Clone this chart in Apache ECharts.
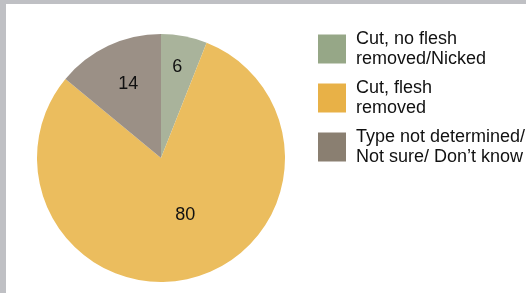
<!DOCTYPE html>
<html>
<head>
<meta charset="utf-8">
<script src="https://cdn.jsdelivr.net/npm/echarts@6/dist/echarts.min.js"></script>
<style>
html,body{margin:0;padding:0;background:#fff;}
#frame{position:absolute;left:0;top:0;width:526px;height:293px;box-sizing:border-box;border-top:4px solid #bfc0c4;border-left:6px solid #bfc0c4;background:#fff;}
#chart{position:absolute;left:0;top:0;width:526px;height:293px;}
</style>
</head>
<body>
<div id="frame"></div>
<div id="chart"></div>
<script>
const categories = ["Cut, no flesh\nremoved/Nicked", "Cut, flesh\nremoved", "Type not determined/\nNot sure/ Don\u2019t know"];
const values = [6, 80, 14];
const pieColors = ["#a9b39b", "#ebbd5e", "#9b9086"];
const legendColors = ["#96a787", "#e8b147", "#8a7f71"];
const labelOffsets = [[4, -27], [8, -6], [-5, -15]];

const chart = echarts.init(document.getElementById('chart'), null, {renderer: 'canvas'});
chart.setOption({
  backgroundColor: 'transparent',
  animation: false,
  legend: {
    orient: 'vertical',
    left: 318,
    top: 25,
    padding: 0,
    icon: 'rect',
    itemWidth: 28,
    itemHeight: 29,
    itemGap: 1,
    textStyle: {fontFamily: 'Liberation Sans, Arial', fontSize: 18, lineHeight: 20, color: '#111', padding: [8, 0, 0, 5]},
    data: categories.map((c, i) => ({name: c, itemStyle: {color: legendColors[i]}}))
  },
  series: [{
    type: 'pie',
    center: [161, 158],
    radius: 124,
    startAngle: 90,
    clockwise: true,
    silent: true,
    label: {
      show: true,
      position: 'inside',
      formatter: '{c}',
      fontFamily: 'Liberation Sans, Arial',
      fontSize: 18,
      color: '#111'
    },
    labelLine: {show: false},
    itemStyle: {borderWidth: 0},
    data: categories.map((c, i) => ({
      name: c,
      value: values[i],
      itemStyle: {color: pieColors[i]},
      label: {offset: labelOffsets[i]}
    }))
  }]
});
</script>
</body>
</html>
